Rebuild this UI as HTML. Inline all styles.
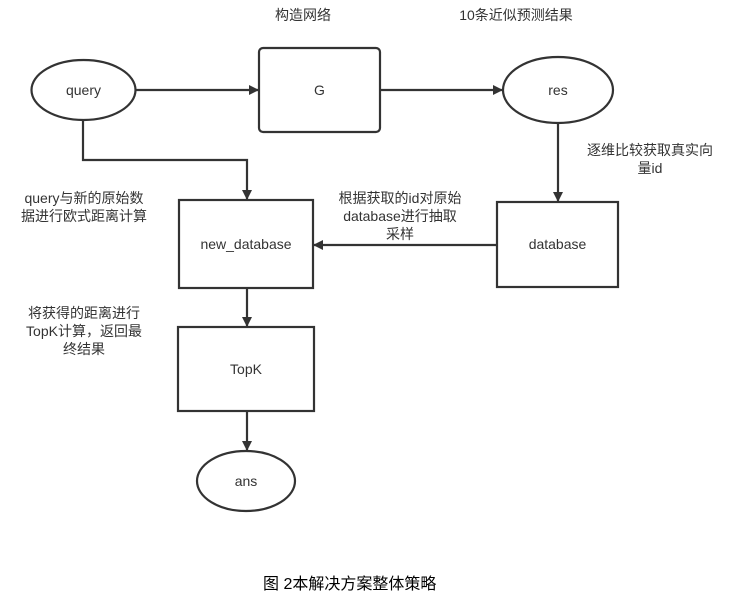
<!DOCTYPE html>
<html><head><meta charset="utf-8"><style>
html,body{margin:0;padding:0;background:#fff;}
svg text{font-family:"Liberation Sans","Noto Sans CJK SC",sans-serif;}
</style></head><body>
<svg width="732" height="601" viewBox="0 0 732 601" xmlns="http://www.w3.org/2000/svg">
<defs><marker id="a" markerWidth="10" markerHeight="10" refX="9" refY="5" orient="auto" markerUnits="userSpaceOnUse"><path d="M0,0 L10,5 L0,10 z" fill="#333"/></marker></defs>
<g stroke="#333" stroke-width="2.2" fill="#fff">
<ellipse cx="83.5" cy="90" rx="52" ry="30"/>
<rect x="259" y="48" width="121" height="84" rx="4"/>
<ellipse cx="558" cy="90" rx="55" ry="33"/>
<rect x="179" y="200" width="134" height="88"/>
<rect x="497" y="202" width="121" height="85"/>
<rect x="178" y="327" width="136" height="84"/>
<ellipse cx="246" cy="481" rx="49" ry="30"/>
</g>
<g stroke="#333" stroke-width="2.2" fill="none" marker-end="url(#a)">
<path d="M136,90 H258"/>
<path d="M380,90 H502"/>
<path d="M83,120 V160 H247 V199"/>
<path d="M558,123 V201"/>
<path d="M497,245 H314"/>
<path d="M247,288 V326"/>
<path d="M247,411 V450"/>
</g>
<g font-size="14" fill="#333" text-anchor="middle">
<text x="83.5" y="95">query</text>
<text x="319.5" y="95">G</text>
<text x="558" y="95">res</text>
<text x="246" y="249">new_database</text>
<text x="557.5" y="249">database</text>
<text x="246" y="374">TopK</text>
<text x="246" y="486">ans</text>
<text x="303" y="20">构造网络</text>
<text x="516" y="20">10条近似预测结果</text>
<text x="650" y="155">逐维比较获取真实向</text>
<text x="650" y="173">量id</text>
<text x="400" y="203">根据获取的id对原始</text>
<text x="400" y="221">database进行抽取</text>
<text x="400" y="239">采样</text>
<text x="84" y="203">query与新的原始数</text>
<text x="84" y="221">据进行欧式距离计算</text>
<text x="84" y="318">将获得的距离进行</text>
<text x="84" y="336">TopK计算，返回最</text>
<text x="84" y="354">终结果</text>
</g>
<text x="263" y="589" font-size="16" fill="#000">图 2本解决方案整体策略</text>
</svg>
</body></html>
